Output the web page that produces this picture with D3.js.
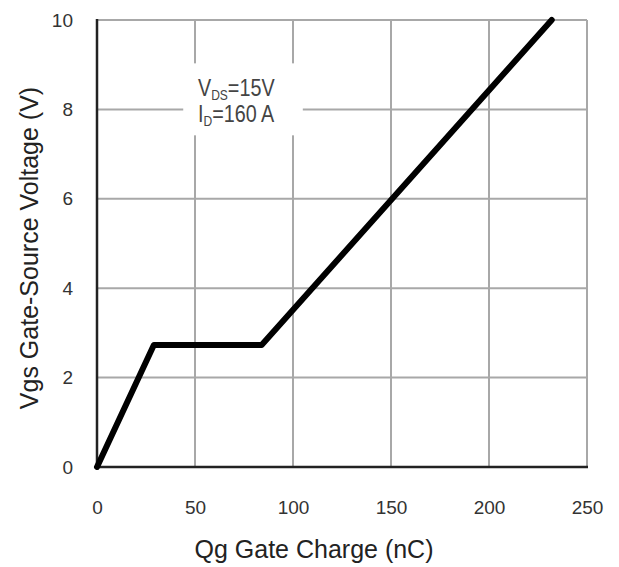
<!DOCTYPE html>
<html>
<head>
<meta charset="utf-8">
<script src="https://cdn.jsdelivr.net/npm/d3@7"></script>
<style>
  html, body { margin: 0; padding: 0; background: #fff; }
  svg { display: block; font-family: "Liberation Sans", Arial, sans-serif; }
</style>
</head>
<body>
<div id="chart"></div>
<script>
/* gate charge curve */
var qgValues  = [0, 29, 84, 232];
var vgsValues = [0, 2.73, 2.73, 10];

var xTicks = [0, 50, 100, 150, 200, 250];
var yTicks = [0, 2, 4, 6, 8, 10];

var W = 619, H = 567;
var margin = { top: 20, right: 32, bottom: 100, left: 97 };

var svg = d3.select('#chart').append('svg')
  .attr('width', W).attr('height', H);

var x = d3.scaleLinear().domain([0, 250]).range([margin.left, W - margin.right]);
var y = d3.scaleLinear().domain([0, 10]).range([H - margin.bottom, margin.top]);

/* grid */
svg.append('g').selectAll('line.vg')
  .data(xTicks.slice(1))
  .join('line')
  .attr('x1', function (d) { return x(d); }).attr('x2', function (d) { return x(d); })
  .attr('y1', y(0)).attr('y2', y(10))
  .attr('stroke', '#a8a8a8').attr('stroke-width', 2);

svg.append('g').selectAll('line.hg')
  .data(yTicks.slice(1))
  .join('line')
  .attr('x1', x(0)).attr('x2', x(250))
  .attr('y1', function (d) { return y(d); }).attr('y2', function (d) { return y(d); })
  .attr('stroke', '#a8a8a8').attr('stroke-width', 2);

/* white box behind annotation */
svg.append('rect')
  .attr('x', x(44)).attr('y', y(9.03))
  .attr('width', x(105) - x(44)).attr('height', y(7.42) - y(9.03))
  .attr('fill', '#fff');

/* axes lines (left + bottom dark) */
svg.append('line')
  .attr('x1', x(0)).attr('x2', x(0)).attr('y1', y(10) - 1).attr('y2', y(0) + 1)
  .attr('stroke', '#222').attr('stroke-width', 2.5);
svg.append('line')
  .attr('x1', x(0) - 1).attr('x2', x(250) + 1).attr('y1', y(0)).attr('y2', y(0))
  .attr('stroke', '#222').attr('stroke-width', 2.5);

/* tick labels */
var xAxis = svg.append('g')
  .attr('transform', 'translate(0,' + (y(0) + 33) + ')')
  .call(d3.axisBottom(x).tickValues(xTicks).tickSize(0).tickPadding(0));
xAxis.select('.domain').remove();
xAxis.selectAll('text')
  .attr('font-size', 19).attr('fill', '#333')
  .attr('font-family', '"Liberation Sans", Arial, sans-serif');

var yAxis = svg.append('g')
  .attr('transform', 'translate(' + (x(0) - 24) + ',0)')
  .call(d3.axisLeft(y).tickValues(yTicks).tickSize(0).tickPadding(0));
yAxis.select('.domain').remove();
yAxis.selectAll('text')
  .attr('font-size', 19).attr('fill', '#333')
  .attr('font-family', '"Liberation Sans", Arial, sans-serif');

/* curve */
var pts = qgValues.map(function (q, i) { return [q, vgsValues[i]]; });
svg.append('path')
  .datum(pts)
  .attr('fill', 'none')
  .attr('stroke', '#000')
  .attr('stroke-width', 6)
  .attr('stroke-linejoin', 'round')
  .attr('stroke-linecap', 'round')
  .attr('d', d3.line()
    .x(function (d) { return x(d[0]); })
    .y(function (d) { return y(d[1]); }));

/* annotation */
var note = svg.append('g')
  .attr('transform', 'translate(' + x(51.5) + ',0) scale(0.86,1)')
  .attr('fill', '#444').attr('font-size', 23);
var t1 = note.append('text').attr('y', 96);
t1.append('tspan').text('V');
t1.append('tspan').attr('font-size', 14).attr('dy', 4).text('DS');
t1.append('tspan').attr('dy', -4).text('=15V');
var t2 = note.append('text').attr('y', 122);
t2.append('tspan').text('I');
t2.append('tspan').attr('font-size', 14).attr('dy', 4).text('D');
t2.append('tspan').attr('dy', -4).text('=160 A');

/* axis titles */
svg.append('text')
  .attr('x', 314).attr('y', 558)
  .attr('text-anchor', 'middle')
  .attr('font-size', 25).attr('fill', '#222')
  .text('Qg Gate Charge (nC)');

svg.append('text')
  .attr('transform', 'translate(38,248) rotate(-90)')
  .attr('text-anchor', 'middle')
  .attr('font-size', 25).attr('fill', '#222')
  .text('Vgs Gate-Source Voltage (V)');
</script>
</body>
</html>
